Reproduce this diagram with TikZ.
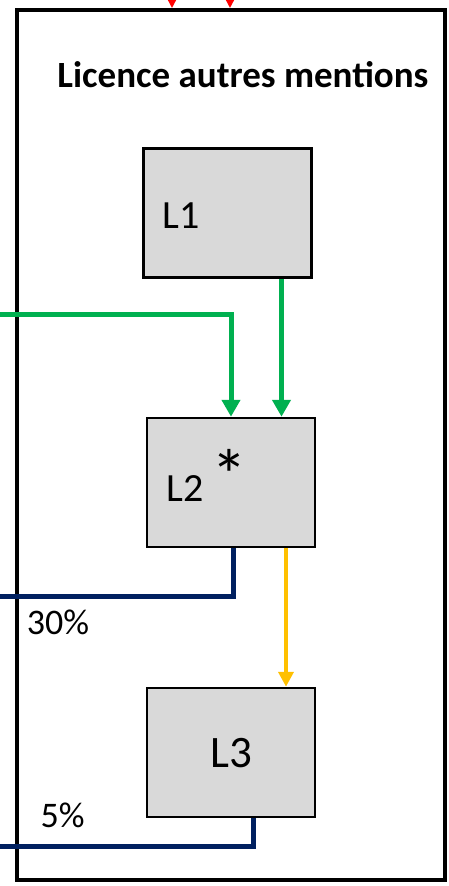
\documentclass[tikz,border=0pt]{standalone}
\usepackage{fontspec}
\setmainfont{Carlito}
\usetikzlibrary{arrows.meta}
\definecolor{boxgray}{HTML}{D9D9D9}
\definecolor{flowgreen}{HTML}{00B050}
\definecolor{flownavy}{HTML}{002060}
\definecolor{flowyellow}{HTML}{FFC000}
\definecolor{flowred}{HTML}{FF0000}
\tikzset{
  yearbox/.style={draw=black, line width=2.5pt, fill=boxgray, minimum width=168pt, minimum height=129pt, inner sep=0pt},
  lbl/.style={inner sep=0pt, font=\fontsize{40}{40}\selectfont},
  pct/.style={inner sep=0pt, font=\fontsize{36}{36}\selectfont},
  greenarrow/.style={draw=flowgreen, line width=5pt, -{Triangle[length=17pt,width=18pt]}},
  yellowarrow/.style={draw=flowyellow, line width=4pt, -{Triangle[length=15pt,width=15pt]}},
  redarrow/.style={draw=flowred, line width=2pt, -{Triangle[length=12pt,width=12pt]}},
  navyline/.style={draw=flownavy, line width=5pt},
}
\begin{document}
\begin{tikzpicture}[x=1pt,y=-1pt]
\useasboundingbox (0,0) rectangle (449,886);
\fill[white] (0,0) rectangle (449,886);

% outer frame
\draw[line width=4pt] (17,10) rectangle (445,880);
\node[inner sep=0pt, font=\bfseries\fontsize{37}{37}\selectfont] (title) at (243,75) {Licence autres mentions};

% year boxes
\node[yearbox] (L1) at (227.5,213) {};
\node[yearbox] (L2) at (231,482.5) {};
\node[yearbox] (L3) at (231,752.5) {};
\node[lbl] (t1) at (181,215.5) {L1};
\node[lbl] (t2) at (185,488.5) {L2};
\node[inner sep=0pt, anchor=north, font=\fontsize{72}{72}\selectfont] (star) at (229,449) {*};
\node[inner sep=0pt, font=\fontsize{45}{45}\selectfont] (t3) at (231,753) {L3};

% incoming arrows at the top
\coordinate (r1) at (172,-40);
\coordinate (r2) at (230,-40);
\draw[redarrow] (r1) -- (172,8);
\draw[redarrow] (r2) -- (230,8);

% green flows into L2
\coordinate (gin) at (0,314);
\draw[greenarrow] (gin) -| (L2.north);
\draw[greenarrow] ([xshift=54pt]L1.south) -- ([xshift=54pt]L1.south |- L2.north);

% L2 -> L3
\draw[yellowarrow] ([xshift=55pt]L2.south) -- ([xshift=55pt]L2.south |- L3.north);

% navy exits
\coordinate (n1) at (0,596);
\coordinate (n2) at (0,846);
\draw[navyline] ([xshift=2pt]L2.south) |- (n1);
\draw[navyline] ([xshift=22pt]L3.south) |- (n2);
\node[pct] (p30) at (58,622) {30\%};
\node[pct] (p5) at (62.5,815) {5\%};
\end{tikzpicture}
\end{document}
